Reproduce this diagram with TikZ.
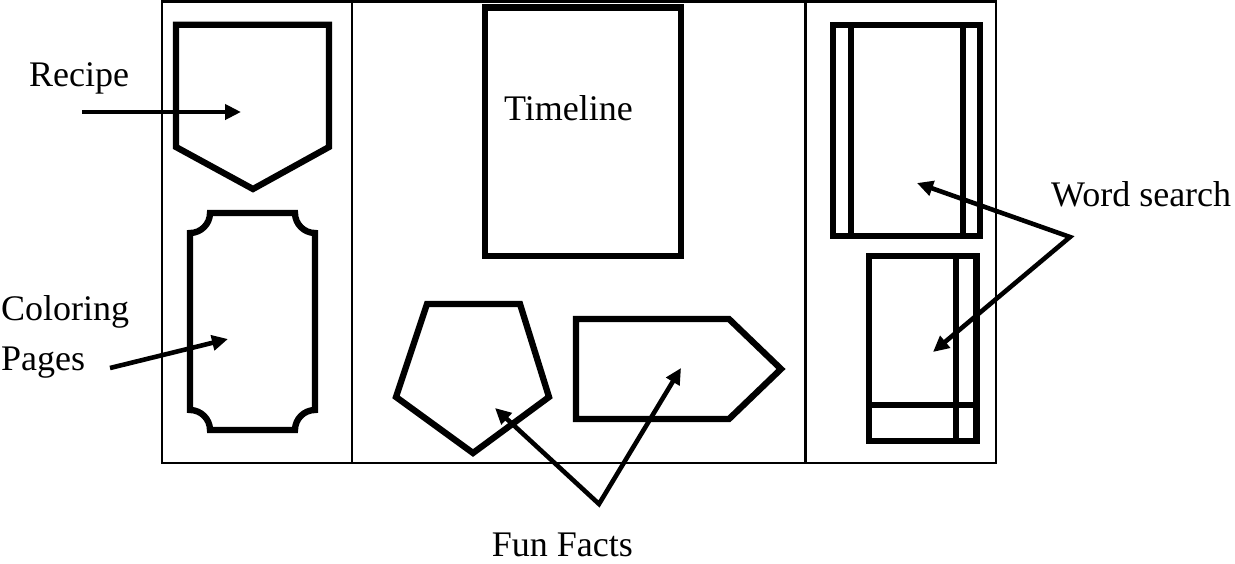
\documentclass[tikz,border=0pt]{standalone}
\usepackage{fontspec}
\setmainfont{Liberation Serif}
\usetikzlibrary{arrows.meta}
\begin{document}
\begin{tikzpicture}[x=1pt,y=-1pt,
  frameline/.style={line width=2.3pt},
  thickshape/.style={line width=6.3pt},
  arr/.style={line width=4.6pt,-{Triangle[length=16pt,width=15pt]}},
  arrtwo/.style={line width=4.6pt,{Triangle[length=16pt,width=15pt]}-{Triangle[length=16pt,width=15pt]}},
  lbl/.style={inner sep=0pt,font=\fontsize{36}{42}\selectfont}]
\useasboundingbox (0,0) rectangle (1235,563);
% frame
\draw[frameline] (162,1.5) rectangle (996,463);
\draw[frameline] (352,1.5) -- (352,463);
\draw[frameline] (805.5,1.5) -- (805.5,463);
% recipe shape
\draw[thickshape] (176,24.7) -- (329,24.7) -- (329,147) -- (253,189) -- (176,147) -- cycle;
% coloring pages shape
\draw[thickshape] (210,213) -- (295,213) .. controls (295,224) and (304,233) .. (315,233)
  -- (315,410) .. controls (304,410) and (295,419) .. (295,430)
  -- (210,430) .. controls (210,419) and (201,410) .. (190,410)
  -- (190,233) .. controls (201,233) and (210,224) .. (210,213) -- cycle;
% timeline
\draw[thickshape] (485,7.5) rectangle (681,256);
% fun facts shapes
\draw[thickshape] (427,304) -- (520,304) -- (549,397) -- (473,453) -- (396,397) -- cycle;
\draw[thickshape] (576,319) -- (729,319) -- (781,369) -- (729,419) -- (576,419) -- cycle;
% word search shapes
\draw[thickshape] (833,25) rectangle (980,236);
\draw[thickshape] (851,25) -- (851,236);
\draw[thickshape] (963,25) -- (963,236);
\draw[thickshape] (869,256) rectangle (976.5,441);
\draw[thickshape] (956,256) -- (956,441);
\draw[thickshape] (869,405) -- (976.5,405);
% labels
\node[lbl,anchor=base west] (recipe) at (29,86) {Recipe};
\node[lbl,anchor=base west] (coloring) at (1,320.7) {Coloring};
\node[lbl,anchor=base west] (pages) at (1,370) {Pages};
\node[lbl,anchor=base west] (timeline) at (504,120) {Timeline};
\node[lbl,anchor=base west] (word) at (1051,206.7) {Word search};
\node[lbl,anchor=base east] (fun) at (633,556) {Fun Facts};
% arrow coordinates
\coordinate (recipeS) at (82,112);
\coordinate (recipeT) at (241,112);
\coordinate (colorS) at (110,368);
\coordinate (colorT) at (228,339);
\coordinate (wordJ) at (1070,237);
\coordinate (wordA) at (917,183);
\coordinate (wordB) at (933,352);
\coordinate (funJ) at (599,504);
\coordinate (funA) at (495,408);
\coordinate (funB) at (681,368);
% arrows
\draw[arr] (recipeS) -- (recipeT);
\draw[arr] (colorS) -- (colorT);
\draw[arrtwo] (wordA) -- (wordJ) -- (wordB);
\draw[arrtwo] (funA) -- (funJ) -- (funB);
\end{tikzpicture}
\end{document}
